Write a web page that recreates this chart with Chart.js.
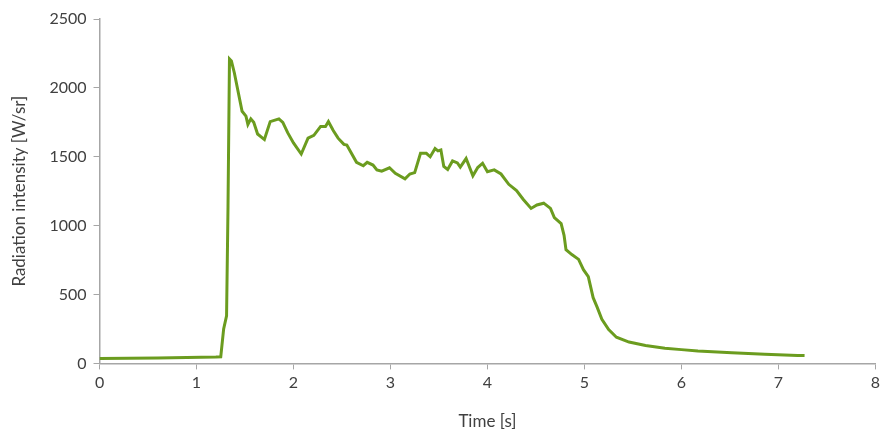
<!DOCTYPE html>
<html>
<head>
<meta charset="utf-8">
<script src="https://cdn.jsdelivr.net/npm/chart.js@4/dist/chart.umd.min.js"></script>
<style>
  html, body { margin: 0; padding: 0; background: #fff; }
  #wrap { width: 884px; height: 436px; position: relative; }
</style>
</head>
<body>
<div id="wrap"><canvas id="chart"></canvas></div>
<script>
  // time [s] and radiation intensity [W/sr]
  const timeValues = [
    0.00, 0.30, 0.60, 0.90, 1.20, 1.25, 1.28, 1.31, 1.325, 1.34,
    1.36, 1.39, 1.47, 1.51, 1.53, 1.56, 1.59, 1.63, 1.70, 1.76,
    1.85, 1.89, 1.94, 2.00, 2.08, 2.15, 2.21, 2.28, 2.33, 2.36,
    2.41, 2.46, 2.52, 2.55, 2.65, 2.72, 2.76, 2.82, 2.86, 2.91,
    2.99, 3.05, 3.15, 3.20, 3.25, 3.31, 3.37, 3.41, 3.46, 3.49,
    3.52, 3.55, 3.59, 3.64, 3.69, 3.72, 3.78, 3.85, 3.90, 3.95,
    4.00, 4.07, 4.14, 4.22, 4.30, 4.37, 4.45, 4.51, 4.58, 4.65,
    4.69, 4.76, 4.79, 4.81, 4.87, 4.94, 4.99, 5.04, 5.09, 5.13,
    5.18, 5.25, 5.33, 5.46, 5.63, 5.83, 6.00, 6.17, 6.52, 6.86,
    7.20, 7.27
  ];
  const intensityValues = [
    36, 38, 40, 43, 46, 48, 250, 345, 1140, 2210,
    2195, 2110, 1830, 1795, 1735, 1775, 1750, 1665, 1625, 1755,
    1775, 1750, 1675, 1600, 1520, 1635, 1655, 1720, 1720, 1755,
    1690, 1635, 1590, 1585, 1460, 1435, 1460, 1440, 1405, 1395,
    1420, 1380, 1340, 1375, 1385, 1525, 1525, 1500, 1560, 1543,
    1550, 1430, 1408, 1470, 1455, 1425, 1487, 1362, 1422, 1453,
    1392, 1405, 1375, 1300, 1255, 1190, 1125, 1150, 1163, 1125,
    1058, 1015, 930, 825, 790, 755, 680, 630, 477, 410,
    320, 245, 190, 155, 130, 110, 100, 90, 78, 66,
    58, 57
  ];

  const xTitle = "Time [s]";
  const yTitle = "Radiation intensity [W/sr]";

  const points = timeValues.map((t, i) => ({ x: t, y: intensityValues[i] }));

  const axisGray = "#a6a6a6";
  const textGray = "#404040";
  const font = { family: "Lato, 'Open Sans', sans-serif", size: 16 };

  new Chart(document.getElementById("chart"), {
    type: "scatter",
    data: {
      datasets: [{
        data: points,
        showLine: true,
        borderColor: "#6b9c1f",
        borderWidth: 3,
        pointRadius: 0,
        tension: 0,
        fill: false,
      }],
    },
    options: {
      responsive: true,
      maintainAspectRatio: false,
      animation: false,
      layout: { padding: { top: 19, right: 6, left: 5, bottom: 0 } },
      plugins: { legend: { display: false }, tooltip: { enabled: false } },
      scales: {
        x: {
          type: "linear",
          min: 0,
          max: 8,
          ticks: { stepSize: 1, color: textGray, font, padding: 4, callback: (v) => String(v) },
          grid: { drawOnChartArea: false, drawTicks: true, tickLength: 6, color: axisGray },
          border: { display: true, color: axisGray, width: 1.5 },
          title: { display: true, text: xTitle, color: textGray, font: { ...font, size: 17 }, padding: { top: 15 } },
        },
        y: {
          min: 0,
          max: 2500,
          ticks: { stepSize: 500, color: textGray, font, padding: 7, callback: (v) => String(v) },
          grid: { drawOnChartArea: false, drawTicks: true, tickLength: 6, color: axisGray },
          border: { display: true, color: axisGray, width: 1.5 },
          title: { display: true, text: yTitle, color: textGray, font: { ...font, size: 17 }, padding: { bottom: 13 } },
        },
      },
    },
  });
</script>
</body>
</html>
